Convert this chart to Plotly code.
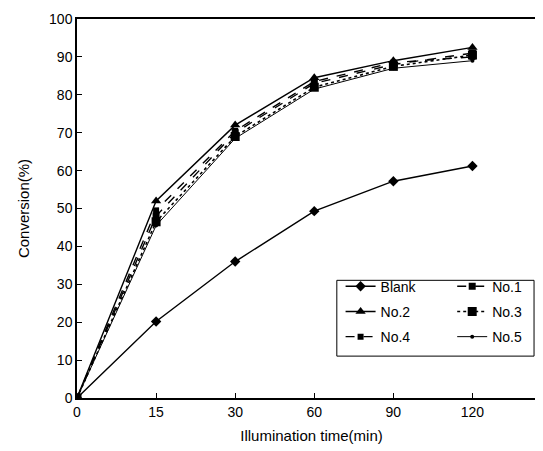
import plotly.graph_objects as go

times = ["0", "15", "30", "60", "90", "120"]
blank = [0, 20.2, 36.0, 49.3, 57.2, 61.2]
no1 = [0, 48.0, 70.0, 83.0, 88.0, 91.0]
no2 = [0, 52.0, 72.0, 84.5, 89.0, 92.5]
no3 = [0, 46.5, 69.0, 82.0, 87.5, 90.5]
no4 = [0, 49.5, 70.5, 83.5, 88.5, 90.0]
no5 = [0, 45.5, 68.5, 81.5, 87.0, 89.0]

series = [
    ("Blank", blank, "solid", "diamond", 8, 1.4, "legend", "g1"),
    ("No.2", no2, "solid", "triangle-up", 9, 1.4, "legend", "g2"),
    ("No.4", no4, "dash", "square", 6, 1.4, "legend", "g3"),
    ("No.1", no1, "dash", "square", 7, 1.4, "legend2", "g4"),
    ("No.3", no3, "dot", "square", 9, 1.6, "legend2", "g5"),
    ("No.5", no5, "solid", "circle", 4, 1.0, "legend2", "g6"),
]

fig = go.Figure()
for name, vals, dash, sym, size, w, leg, grp in series:
    fig.add_trace(go.Scatter(
        x=times, y=vals, name=name, mode="lines+markers",
        line=dict(color="black", width=w, dash=dash),
        marker=dict(symbol=sym, size=size, color="black"),
        legend=leg, legendgroup=grp,
    ))

font = dict(family="Liberation Sans, Arial, sans-serif", size=13, color="black")
fig.update_layout(
    width=543, height=451,
    margin=dict(l=69, r=3, t=10, b=61),
    paper_bgcolor="white", plot_bgcolor="white",
    font=font,
    xaxis=dict(type="category", range=[0, 5.93], showline=True, mirror=True,
               linecolor="black", linewidth=1.5, ticks="inside", ticklen=5,
               tickcolor="black", showgrid=False, zeroline=False,
               title=dict(text="Illumination time(min)", standoff=12,
                          font=dict(size=15)),
               tickfont=dict(size=14)),
    yaxis=dict(range=[0, 100], dtick=10, showline=True, mirror=True,
               linecolor="black", linewidth=1.5, ticks="inside", ticklen=5,
               tickcolor="black", showgrid=False, zeroline=False,
               title=dict(text="Conversion(%)", standoff=16,
                          font=dict(size=15)),
               tickfont=dict(size=14)),
    legend=dict(x=0.562, y=0.336, xanchor="left", yanchor="top",
                bgcolor="rgba(0,0,0,0)", tracegroupgap=4,
                font=dict(size=14), itemwidth=30),
    legend2=dict(x=0.80, y=0.336, xanchor="left", yanchor="top",
                 bgcolor="rgba(0,0,0,0)", tracegroupgap=4,
                 font=dict(size=14), itemwidth=30),
    shapes=[dict(type="rect", xref="paper", yref="paper",
                 x0=0.554, x1=0.9745, y0=0.1105, y1=0.3105,
                 line=dict(color="black", width=1))],
)

fig.write_html("out.html")
